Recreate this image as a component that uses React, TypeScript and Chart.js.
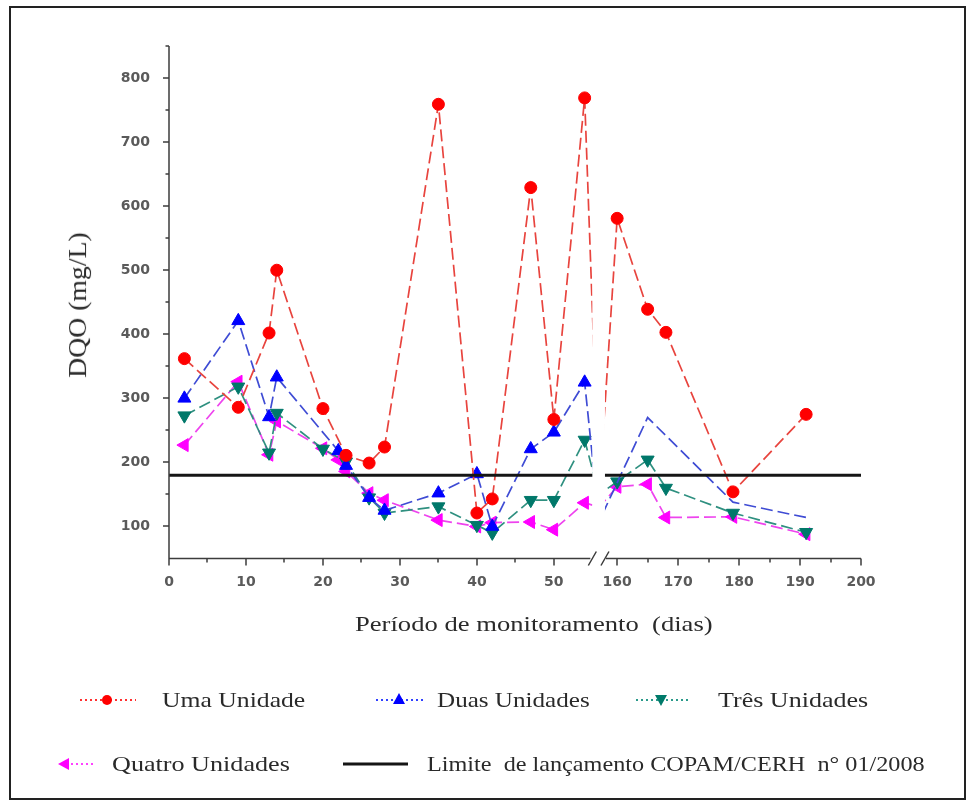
import React, { useEffect, useLayoutEffect, useRef } from "react";
import { Chart, registerables } from "chart.js";

Chart.register(...registerables);

// Sampling days. The 110-day sample lies inside the axis break, so only the
// line segments leading into the break are visible.
const days = [2, 9, 13, 14, 20, 22, 23, 26, 28, 35, 40, 42, 47, 50, 54, 110, 160, 165, 168, 179, 191];

// DQO (mg/L) per configuration
const umaUnidade = [362, 286, 402, 500, 284, null, 211, 199, 224, 759, 121, 143, 629, 267, 769, 148, 581, 439, 403, 154, 275];
const duasUnidades = [300, 421, 271, 333, null, 218, 195, 145, 125, 152, 182, 100, 221, 247, 325, 108, null, 270, null, 138, 114];
const tresUnidades = [273, 318, 215, 277, 221, null, 201, 145, 121, 131, 102, 90, 141, 141, 235, 150, 170, 204, 160, 121, 91];
const quatroUnidades = [227, 326, 212, 264, 222, 204, 186, 152, 141, 110, 100, 106, 107, 95, 137, 130, 162, 166, 114, 115, 88];

// discharge limit COPAM/CERH nº 01/2008
const limiteCopam = 180;

const xMajorDays = [0, 10, 20, 30, 40, 50, 160, 170, 180, 190, 200];
const xMinorDays = [5, 15, 25, 35, 45, 165, 175, 185, 195];
const yMajor = [100, 200, 300, 400, 500, 600, 700, 800];
const yMinor = [150, 250, 350, 450, 550, 650, 750, 850];

// Broken x axis: days between BREAK_FROM and BREAK_TO are squeezed into a narrow gap,
// and the right-hand part is drawn at a smaller scale than the left one.
const BREAK_FROM = 55;
const BREAK_TO = 158;
const GAP = 1.64;
const RIGHT_SCALE = 0.792;
const X_END = 200;

function toAxis(day: number): number {
  if (day <= BREAK_FROM) return day;
  if (day >= BREAK_TO) return BREAK_FROM + GAP + (day - BREAK_TO) * RIGHT_SCALE;
  return BREAK_FROM + ((day - BREAK_FROM) / (BREAK_TO - BREAK_FROM)) * GAP;
}

function fromAxis(v: number): number {
  if (v <= BREAK_FROM) return v;
  if (v >= BREAK_FROM + GAP) return BREAK_TO + (v - BREAK_FROM - GAP) / RIGHT_SCALE;
  return BREAK_FROM + ((v - BREAK_FROM) / GAP) * (BREAK_TO - BREAK_FROM);
}

const inBreak = (d: number) => d > BREAK_FROM && d < BREAK_TO;

function series(
  label: string,
  values: (number | null)[],
  line: string,
  fill: string,
  pointStyle: string,
  rotation: number,
  radius: number,
  markersOnRight = true
) {
  return {
    label,
    data: days.map((d, i) => ({ x: toAxis(d), y: values[i] })),
    borderColor: line,
    borderWidth: 1.7,
    borderDash: [12, 5],
    pointBackgroundColor: fill,
    pointBorderColor: fill,
    pointBorderWidth: 1,
    pointStyle,
    rotation,
    pointRadius: (c: any) => {
      const d = days[c.dataIndex];
      if (inBreak(d)) return 0;
      if (!markersOnRight && d >= BREAK_TO) return 0;
      return radius;
    },
    spanGaps: true,
    tension: 0,
    fill: false,
  };
}

const TICK_FONT = { family: "'DejaVu Sans', sans-serif", size: 14, weight: "bold" as const };

const brokenAxes = {
  id: "brokenAxes",
  afterDatasetsDraw(chart: any) {
    const { ctx, chartArea: a, scales } = chart;
    const xs = scales.x;
    const ys = scales.y;
    const gx0 = xs.getPixelForValue(toAxis(BREAK_FROM));
    const gx1 = xs.getPixelForValue(toAxis(BREAK_TO));
    ctx.save();
    // clear everything crossing the break
    ctx.fillStyle = "#ffffff";
    ctx.fillRect(gx0, a.top - 4, gx1 - gx0, a.bottom - a.top + 12);

    ctx.strokeStyle = "#3c3c3c";
    ctx.lineWidth = 1.5;
    ctx.beginPath();
    ctx.moveTo(a.left, a.top);
    ctx.lineTo(a.left, a.bottom + 0.75);
    ctx.moveTo(a.left, a.bottom);
    ctx.lineTo(gx0 - 2, a.bottom);
    ctx.moveTo(gx1 + 1, a.bottom);
    ctx.lineTo(a.right, a.bottom);
    for (const d of xMajorDays) {
      const px = Math.round(xs.getPixelForValue(toAxis(d)));
      ctx.moveTo(px, a.bottom);
      ctx.lineTo(px, a.bottom + 7);
    }
    for (const d of xMinorDays) {
      const px = Math.round(xs.getPixelForValue(toAxis(d)));
      ctx.moveTo(px, a.bottom);
      ctx.lineTo(px, a.bottom + 4);
    }
    for (const v of yMajor) {
      const py = Math.round(ys.getPixelForValue(v));
      ctx.moveTo(a.left, py);
      ctx.lineTo(a.left - 6, py);
    }
    for (const v of yMinor) {
      const py = Math.round(ys.getPixelForValue(v));
      ctx.moveTo(a.left, py);
      ctx.lineTo(a.left - 3.5, py);
    }
    // break marks
    ctx.moveTo(gx0 - 4, a.bottom + 7);
    ctx.lineTo(gx0 + 4, a.bottom - 7);
    ctx.moveTo(gx1 - 4, a.bottom + 7);
    ctx.lineTo(gx1 + 4, a.bottom - 7);
    ctx.stroke();
    ctx.restore();
  },
};

function FitText(props: {
  text: string;
  left: number;
  top: number;
  width: number;
  size: number;
  rotate?: boolean;
  cross?: number;
}) {
  const { text, left, top, width, size, rotate, cross = 1 } = props;
  const ref = useRef<HTMLDivElement>(null);
  useLayoutEffect(() => {
    const el = ref.current;
    if (!el) return;
    const k = width / el.offsetWidth;
    el.style.transform = rotate
      ? `translate(-50%, -50%) rotate(-90deg) scale(${k}, ${cross})`
      : `scaleX(${k})`;
  }, [text, width, rotate, cross]);
  return (
    <div
      ref={ref}
      style={{
        position: "absolute",
        left,
        top,
        fontFamily: "'Liberation Serif', 'Times New Roman', serif",
        fontSize: size,
        lineHeight: `${size}px`,
        color: "#2a2a2a",
        whiteSpace: "pre",
        transformOrigin: rotate ? "center center" : "left center",
      }}
    >
      {text}
    </div>
  );
}

export default function App() {
  const canvasRef = useRef<HTMLCanvasElement>(null);

  useEffect(() => {
    const canvas = canvasRef.current;
    if (!canvas) return;
    const chart = new Chart(canvas, {
      type: "line",
      data: {
        datasets: [
          {
            label: "Limite de lançamento COPAM/CERH n° 01/2008",
            data: [
              { x: toAxis(0), y: limiteCopam },
              { x: toAxis(X_END), y: limiteCopam },
            ],
            borderColor: "#151515",
            borderWidth: 3,
            pointRadius: 0,
            fill: false,
          } as any,
          series("Uma Unidade", umaUnidade, "#e8443e", "#ff0000", "circle", 0, 6),
          series("Duas Unidades", duasUnidades, "#3f4cd4", "#0000ff", "triangle", 0, 7.5, false),
          series("Três Unidades", tresUnidades, "#2f9080", "#00786a", "triangle", 180, 7.5),
          series("Quatro Unidades", quatroUnidades, "#ee44ee", "#ff00ff", "triangle", -90, 7.5),
        ],
      },
      options: {
        responsive: false,
        animation: false,
        events: [],
        layout: { padding: { left: 100, top: 46, right: 116, bottom: 0 } },
        plugins: { legend: { display: false }, tooltip: { enabled: false } },
        scales: {
          x: {
            type: "linear",
            min: 0,
            max: toAxis(X_END),
            grid: { display: false, drawTicks: false },
            border: { display: false },
            afterBuildTicks: (s: any) => {
              s.ticks = xMajorDays.map((d) => ({ value: toAxis(d) }));
            },
            afterFit: (s: any) => {
              s.height = 251.5;
            },
            ticks: {
              autoSkip: false,
              maxRotation: 0,
              padding: 15,
              color: "#5a5a5a",
              font: TICK_FONT,
              callback: (v: any) => String(Math.round(fromAxis(Number(v)))),
            },
          },
          y: {
            type: "linear",
            min: 50,
            max: 850,
            grid: { display: false, drawTicks: false },
            border: { display: false },
            afterBuildTicks: (s: any) => {
              s.ticks = yMajor.map((v) => ({ value: v }));
            },
            afterFit: (s: any) => {
              s.width = 69;
            },
            ticks: {
              padding: 19,
              color: "#5a5a5a",
              font: TICK_FONT,
              callback: (v: any) => String(v),
            },
          },
        },
      },
      plugins: [brokenAxes],
    } as any);
    return () => chart.destroy();
  }, []);

  const dots = "2 3";
  return (
    <div
      style={{
        position: "absolute",
        left: 0,
        top: 0,
        width: 977,
        height: 810,
        background: "#ffffff",
        overflow: "hidden",
      }}
    >
      <div
        style={{
          position: "absolute",
          left: 9,
          top: 6,
          width: 957,
          height: 794,
          border: "2px solid #222",
          boxSizing: "border-box",
        }}
      />
      <canvas ref={canvasRef} width={977} height={810} style={{ position: "absolute", left: 0, top: 0 }} />

      <FitText text="DQO (mg/L)" left={78} top={305} width={145} size={22} rotate cross={1.15} />
      <FitText text="Período de monitoramento  (dias)" left={355} top={613} width={358} size={22} />

      <svg width={977} height={810} style={{ position: "absolute", left: 0, top: 0, pointerEvents: "none" }}>
        <line x1={80} y1={700} x2={136} y2={700} stroke="#ff3030" strokeWidth={2} strokeDasharray={dots} />
        <circle cx={107} cy={700} r={5} fill="#ff0000" />
        <line x1={376} y1={700} x2={426} y2={700} stroke="#3040ff" strokeWidth={2} strokeDasharray={dots} />
        <polygon points="399,693 405,704 393,704" fill="#0000ff" />
        <line x1={636} y1={700} x2={690} y2={700} stroke="#2a9a8a" strokeWidth={2} strokeDasharray={dots} />
        <polygon points="655,695 667,695 661,706" fill="#007a6a" />
        <line x1={66} y1={764} x2={96} y2={764} stroke="#ff40ff" strokeWidth={2} strokeDasharray={dots} />
        <polygon points="58,764 69,758 69,770" fill="#ff00ff" />
        <line x1={343} y1={764} x2={408} y2={764} stroke="#151515" strokeWidth={3} />
      </svg>

      <FitText text="Uma Unidade" left={162} top={690} width={143} size={21} />
      <FitText text="Duas Unidades" left={437} top={690} width={153} size={21} />
      <FitText text="Três Unidades" left={718} top={690} width={150} size={21} />
      <FitText text="Quatro Unidades" left={112} top={754} width={178} size={21} />
      <FitText text="Limite  de lançamento COPAM/CERH  n° 01/2008" left={427} top={754} width={498} size={21} />
    </div>
  );
}
